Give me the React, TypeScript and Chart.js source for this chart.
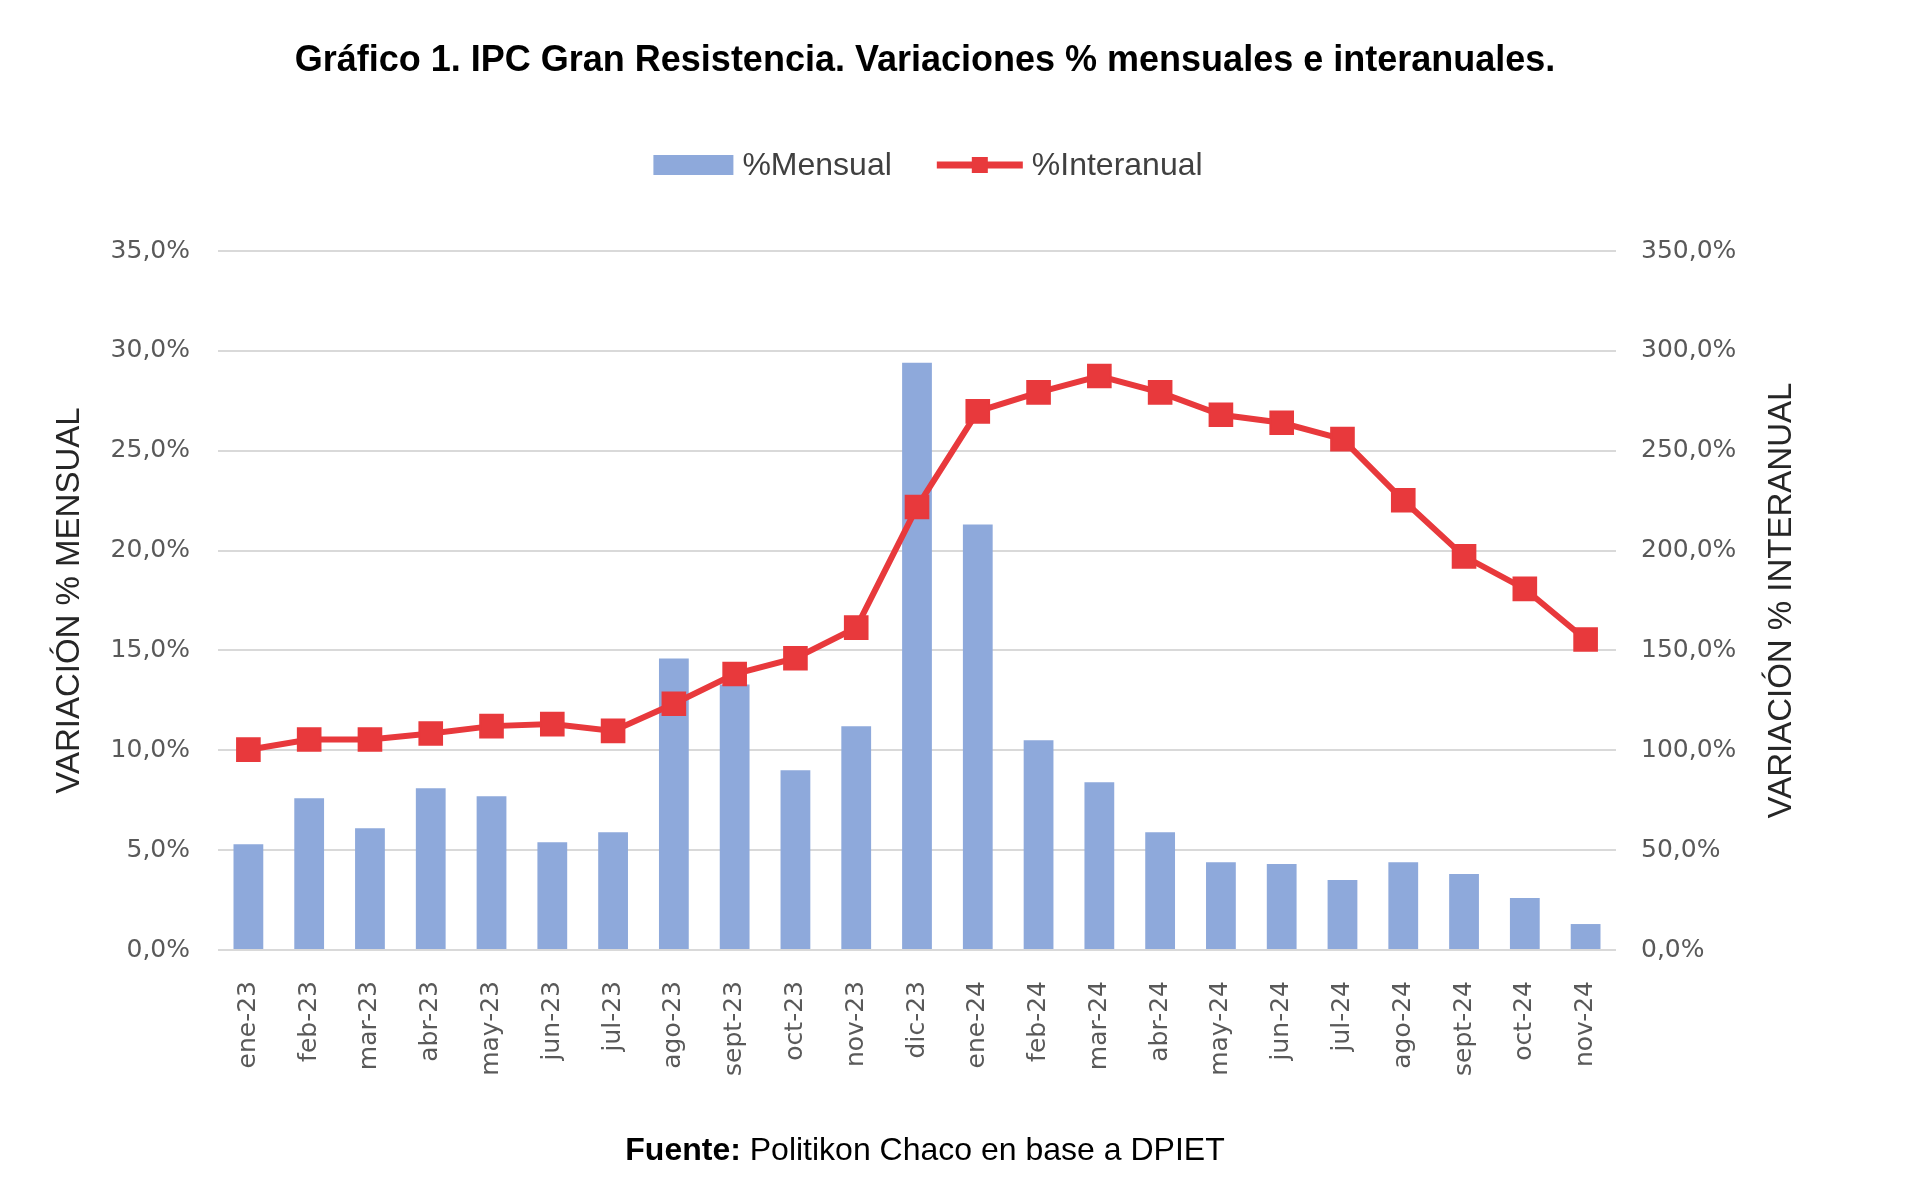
import React, { useEffect, useRef } from 'react';
import { Chart, registerables } from 'chart.js';

Chart.register(...registerables);

const TITLE = 'Gráfico 1. IPC Gran Resistencia. Variaciones % mensuales e interanuales.';
const SERIES_MENSUAL = '%Mensual';
const SERIES_INTERANUAL = '%Interanual';
const LEFT_AXIS_TITLE = 'VARIACIÓN % MENSUAL';
const RIGHT_AXIS_TITLE = 'VARIACIÓN % INTERANUAL';
const SOURCE_BOLD = 'Fuente:';
const SOURCE_TEXT = ' Politikon Chaco en base a DPIET';

const categories = [
  'ene-23', 'feb-23', 'mar-23', 'abr-23', 'may-23', 'jun-23', 'jul-23', 'ago-23',
  'sept-23', 'oct-23', 'nov-23', 'dic-23', 'ene-24', 'feb-24', 'mar-24', 'abr-24',
  'may-24', 'jun-24', 'jul-24', 'ago-24', 'sept-24', 'oct-24', 'nov-24',
];

const mensual = [
  5.3, 7.6, 6.1, 8.1, 7.7, 5.4, 5.9, 14.6,
  13.3, 9.0, 11.2, 29.4, 21.3, 10.5, 8.4, 5.9,
  4.4, 4.3, 3.5, 4.4, 3.8, 2.6, 1.3,
];

const interanual = [
  100.3, 105.4, 105.4, 108.4, 112.1, 113.1, 109.7, 123.3,
  138.2, 146.1, 161.4, 221.8, 269.7, 279.2, 287.4, 279.2,
  268.0, 264.0, 255.8, 225.2, 197.1, 180.8, 155.5,
];

const leftAxisMax = 35;
const leftAxisStep = 5;
const rightAxisMax = 350;
const rightAxisStep = 50;

const BAR_COLOR = '#8EA9DB';
const LINE_COLOR = '#E8393C';
const TICK_COLOR = '#595959';
const SANS = '"Liberation Sans", Arial, sans-serif';
const TICK_FONT = '"DejaVu Sans", Verdana, sans-serif';

const fmtPct = (v: number) => v.toFixed(1).replace('.', ',') + '%';

const overlayPlugin = {
  id: 'overlay',
  afterDraw(chart: any) {
    const ctx = chart.ctx as CanvasRenderingContext2D;
    const area = chart.chartArea;
    ctx.save();
    // Title
    ctx.fillStyle = '#000000';
    ctx.textBaseline = 'middle';
    ctx.textAlign = 'center';
    ctx.font = `bold 36px ${SANS}`;
    ctx.fillText(TITLE, 925, 61);

    // Right axis title, reading bottom-to-top
    ctx.save();
    ctx.fillStyle = '#262626';
    ctx.font = `33px ${SANS}`;
    ctx.translate(1782, (area.top + area.bottom) / 2);
    ctx.rotate(-Math.PI / 2);
    ctx.fillText(RIGHT_AXIS_TITLE, 0, 0);
    ctx.restore();

    // Legend
    ctx.font = `32px ${SANS}`;
    const boxW = 80;
    const lineW = 86;
    const gap = 9;
    const itemGap = 45;
    const t1 = ctx.measureText(SERIES_MENSUAL).width;
    const t2 = ctx.measureText(SERIES_INTERANUAL).width;
    const total = boxW + gap + t1 + itemGap + lineW + gap + t2;
    let x = 928 - total / 2;
    const ly = 165;
    ctx.fillStyle = BAR_COLOR;
    ctx.fillRect(x, ly - 10, boxW, 20);
    x += boxW + gap;
    ctx.fillStyle = '#404040';
    ctx.textAlign = 'left';
    ctx.fillText(SERIES_MENSUAL, x, ly + 1);
    x += t1 + itemGap;
    ctx.strokeStyle = LINE_COLOR;
    ctx.lineWidth = 7;
    ctx.beginPath();
    ctx.moveTo(x, ly);
    ctx.lineTo(x + lineW, ly);
    ctx.stroke();
    ctx.fillStyle = LINE_COLOR;
    ctx.fillRect(x + lineW / 2 - 8, ly - 8, 16, 16);
    x += lineW + gap;
    ctx.fillStyle = '#404040';
    ctx.fillText(SERIES_INTERANUAL, x, ly + 1);

    // Footer
    ctx.fillStyle = '#000000';
    ctx.font = `bold 32px ${SANS}`;
    const w1 = ctx.measureText(SOURCE_BOLD).width;
    ctx.font = `32px ${SANS}`;
    const w2 = ctx.measureText(SOURCE_TEXT).width;
    const fx = 925 - (w1 + w2) / 2;
    ctx.font = `bold 32px ${SANS}`;
    ctx.fillText(SOURCE_BOLD, fx, 1151);
    ctx.font = `32px ${SANS}`;
    ctx.fillText(SOURCE_TEXT, fx + w1, 1151);
    ctx.restore();
  },
};

export default function App() {
  const canvasRef = useRef<HTMLCanvasElement | null>(null);

  useEffect(() => {
    document.body.style.margin = '0';
    document.body.style.overflow = 'hidden';
    document.body.style.background = '#ffffff';
    const canvas = canvasRef.current;
    if (!canvas) return;
    const chart = new Chart(canvas, {
      type: 'bar',
      data: {
        labels: categories,
        datasets: [
          {
            type: 'line',
            label: SERIES_INTERANUAL,
            data: interanual,
            yAxisID: 'y2',
            borderColor: LINE_COLOR,
            backgroundColor: LINE_COLOR,
            borderWidth: 6,
            pointStyle: 'rect',
            pointRadius: 16,
            pointBorderWidth: 2,
            pointBackgroundColor: LINE_COLOR,
            pointBorderColor: LINE_COLOR,
            tension: 0,
            order: 0,
          } as any,
          {
            type: 'bar',
            label: SERIES_MENSUAL,
            data: mensual,
            yAxisID: 'y',
            backgroundColor: BAR_COLOR,
            borderWidth: 0,
            barPercentage: 0.49,
            categoryPercentage: 1,
            order: 1,
          } as any,
        ],
      },
      options: {
        responsive: false,
        animation: false,
        devicePixelRatio: 1,
        layout: { padding: { top: 251, bottom: 0, left: 0, right: 0 } },
        plugins: {
          legend: { display: false },
          title: { display: false },
          tooltip: { enabled: false },
        },
        scales: {
          x: {
            grid: { display: false },
            border: { display: false },
            ticks: {
              minRotation: 90,
              maxRotation: 90,
              autoSkip: false,
              padding: 23,
              color: TICK_COLOR,
              font: { family: TICK_FONT, size: 25 },
            },
            afterFit: (scale: any) => { scale.height = 250; },
          },
          y: {
            position: 'left',
            min: 0,
            max: leftAxisMax,
            ticks: {
              stepSize: leftAxisStep,
              padding: 28,
              color: TICK_COLOR,
              font: { family: TICK_FONT, size: 25 },
              callback: (v: any) => fmtPct(Number(v)),
            },
            grid: { color: '#D9D9D9', lineWidth: 2, drawTicks: false },
            border: { display: false },
            title: {
              display: true,
              text: LEFT_AXIS_TITLE,
              color: '#262626',
              font: { family: SANS, size: 33 },
              padding: { top: 50, bottom: 0 },
            },
            afterFit: (scale: any) => { scale.width = 218; },
          },
          y2: {
            position: 'right',
            min: 0,
            max: rightAxisMax,
            ticks: {
              stepSize: rightAxisStep,
              padding: 25,
              color: TICK_COLOR,
              font: { family: TICK_FONT, size: 25 },
              callback: (v: any) => fmtPct(Number(v)),
            },
            grid: { display: false, drawTicks: false },
            border: { display: false },
            title: { display: false },
            afterFit: (scale: any) => { scale.width = 304; },
          },
        },
      } as any,
      plugins: [overlayPlugin],
    });
    return () => chart.destroy();
  }, []);

  return (
    <canvas
      ref={canvasRef}
      width={1920}
      height={1200}
      style={{ display: 'block', width: '1920px', height: '1200px' }}
    />
  );
}
